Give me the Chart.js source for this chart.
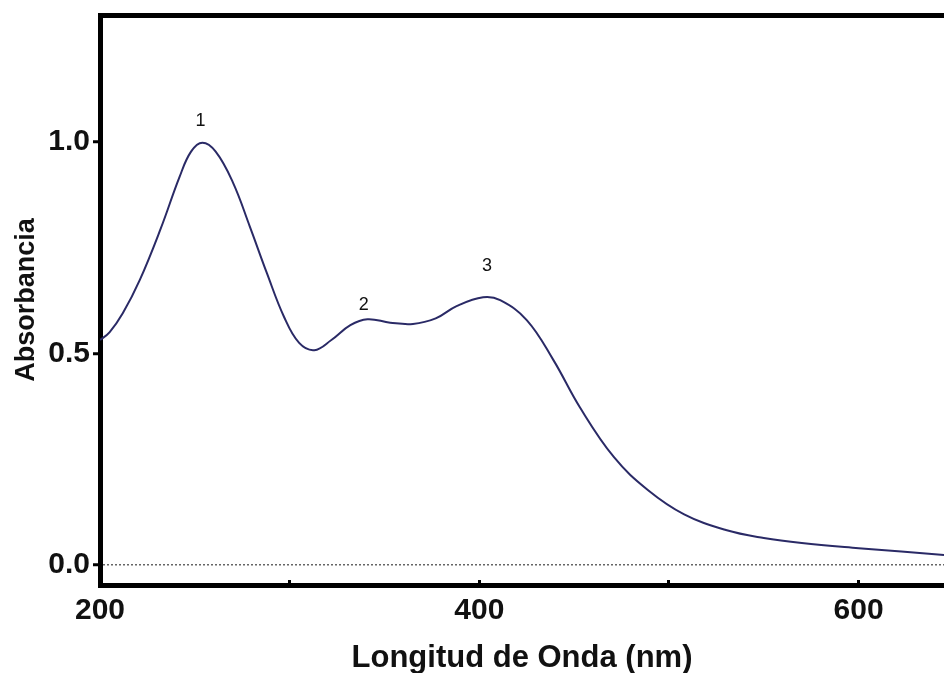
<!DOCTYPE html>
<html>
<head>
<meta charset="utf-8">
<script src="https://cdn.jsdelivr.net/npm/chart.js@4"></script>
<style>
  html, body { margin: 0; padding: 0; background: #fff; }
  #wrap { width: 944px; height: 673px; }
</style>
</head>
<body>
<div id="wrap"><canvas id="spectrum"></canvas></div>
<script>
// Wavelength (nm) and absorbance
const wavelengths = [200, 205, 212, 221, 232, 242, 248, 254, 261, 270, 279, 288, 297, 305, 313, 322, 332, 341, 353, 365, 377, 388, 402, 411, 425, 439, 453, 471, 489, 508, 530, 550, 570, 600, 645];
const absorbance  = [0.532, 0.550, 0.595, 0.674, 0.795, 0.918, 0.977, 0.998, 0.977, 0.905, 0.80, 0.69, 0.587, 0.525, 0.508, 0.532, 0.567, 0.581, 0.573, 0.570, 0.583, 0.612, 0.633, 0.626, 0.579, 0.485, 0.373, 0.255, 0.177, 0.120, 0.083, 0.064, 0.052, 0.040, 0.024];

// Band labels (anchored in data coordinates)
const bandLabels = ['1', '2', '3'];
const bandLabelX = [253, 339, 404];
const bandLabelY = [1.05, 0.615, 0.707];

// Axis ticks
const xTicksShown = [200, 400, 600];
const yTicks = [0, 0.5, 1.0];

const FONT = "'Liberation Sans', Arial, sans-serif";

const bandLabelPlugin = {
    id: 'bandLabels',
    afterDatasetsDraw(chart) {
        const { ctx, scales: { x, y } } = chart;
        ctx.save();
        ctx.font = `18px ${FONT}`;
        ctx.fillStyle = '#111';
        ctx.textAlign = 'center';
        ctx.textBaseline = 'middle';
        bandLabels.forEach((txt, i) => {
            ctx.fillText(txt, x.getPixelForValue(bandLabelX[i]), y.getPixelForValue(bandLabelY[i]));
        });
        ctx.restore();
    }
};

const ctx = document.getElementById('spectrum').getContext('2d');

new Chart(ctx, {
    type: 'line',
    data: {
        datasets: [{
            data: wavelengths.map((w, i) => ({ x: w, y: absorbance[i] })),
            borderColor: '#2a2a66',
            borderWidth: 2,
            pointRadius: 0,
            tension: 0.4,
            fill: false
        }]
    },
    options: {
        responsive: true,
        maintainAspectRatio: false,
        animation: false,
        layout: { padding: { left: 0, right: 0, top: 0, bottom: 0 } },
        plugins: {
            legend: { display: false },
            tooltip: { enabled: false }
        },
        scales: {
            x: {
                type: 'linear',
                position: 'bottom',
                min: 200,
                max: 645,
                afterFit: (scale) => { scale.height = 88; },
                border: { display: true, color: '#000', width: 5 },
                grid: {
                    drawOnChartArea: false,
                    drawTicks: true,
                    tickLength: -5,
                    tickColor: '#000',
                    tickWidth: 3
                },
                ticks: {
                    stepSize: 100,
                    includeBounds: false,
                    autoSkip: false,
                    maxRotation: 0,
                    padding: 13,
                    color: '#111',
                    font: { family: FONT, size: 30, weight: 'bold' },
                    callback: (v) => xTicksShown.includes(v) ? String(v) : ''
                },
                title: {
                    display: true,
                    text: 'Longitud de Onda (nm)',
                    color: '#111',
                    padding: { top: 0, bottom: 0 },
                    font: { family: FONT, size: 31, weight: 'bold', lineHeight: 0.95 }
                }
            },
            xTop: {
                type: 'linear',
                position: 'top',
                min: 200,
                max: 645,
                afterFit: (scale) => { scale.height = 15; },
                border: { display: true, color: '#000', width: 5 },
                grid: { drawOnChartArea: false, drawTicks: false },
                ticks: { display: false }
            },
            y: {
                type: 'linear',
                min: -0.047,
                max: 1.30,
                afterFit: (scale) => {
                    scale.width = 100;
                    scale.paddingTop = 0;
                    scale.paddingBottom = 0;
                },
                afterBuildTicks: (scale) => { scale.ticks = yTicks.map(v => ({ value: v })); },
                border: { display: true, color: '#000', width: 5, dash: [2, 2] },
                grid: {
                    drawOnChartArea: true,
                    color: (c) => (c.tick && c.tick.value === 0) ? '#666' : 'rgba(0,0,0,0)',
                    lineWidth: 1.5,
                    drawTicks: true,
                    tickLength: 7,
                    tickColor: '#000',
                    tickWidth: 3
                },
                ticks: {
                    padding: 3,
                    color: '#111',
                    font: { family: FONT, size: 30, weight: 'bold' },
                    callback: (v) => v.toFixed(1)
                },
                title: {
                    display: true,
                    text: 'Absorbancia',
                    color: '#111',
                    padding: { top: 10, bottom: 0 },
                    font: { family: FONT, size: 27, weight: 'bold' }
                }
            }
        }
    },
    plugins: [bandLabelPlugin]
});
</script>
</body>
</html>
